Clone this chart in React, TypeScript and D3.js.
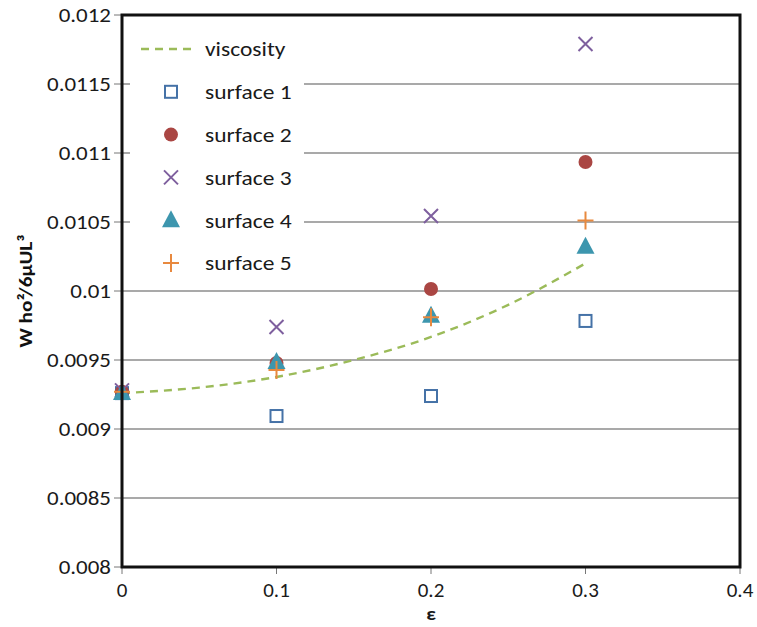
import * as React from 'react'
import * as d3 from 'd3'

// values
const eps = [0, 0.1, 0.2, 0.3]
const surface1 = [0.00926, 0.009094, 0.009239, 0.009783]
const surface2 = [0.00927, 0.009478, 0.010015, 0.010935]
const surface3 = [0.00928, 0.009739, 0.010543, 0.01179]
const surface4 = [0.00926, 0.009485, 0.00982, 0.01032]
const surface5 = [0.00927, 0.009428, 0.00981, 0.01051]
const viscEps = [0, 0.05, 0.1, 0.15, 0.2, 0.25, 0.3]
const viscosity = [0.00926, 0.0093, 0.009377, 0.0095, 0.009667, 0.0099, 0.0102]
const yTicks = [0.008, 0.0085, 0.009, 0.0095, 0.01, 0.0105, 0.011, 0.0115, 0.012]
const xTicks = [0, 0.1, 0.2, 0.3, 0.4]

const W = 757
const H = 627
const margin = { left: 122, right: 17, top: 15, bottom: 60 }
const font = 'Carlito, Calibri, "Open Sans", "Liberation Sans", sans-serif'

type Kind = 'square' | 'circle' | 'x' | 'triangle' | 'plus'

const series: { name: string; kind: Kind; color: string; values: number[] }[] = [
    { name: 'surface 1', kind: 'square', color: '#4572A7', values: surface1 },
    { name: 'surface 2', kind: 'circle', color: '#AA4643', values: surface2 },
    { name: 'surface 3', kind: 'x', color: '#7E5F9E', values: surface3 },
    { name: 'surface 4', kind: 'triangle', color: '#3D96AE', values: surface4 },
    { name: 'surface 5', kind: 'plus', color: '#E8893F', values: surface5 },
]

function Marker (props: { kind: Kind; color: string; x: number; y: number }) {
    const { kind, color, x, y } = props
    switch (kind) {
        case 'square':
            return <rect x={x - 6} y={y - 6} width={12} height={12} fill="white" stroke={color} strokeWidth={2} />
        case 'circle':
            return <circle cx={x} cy={y} r={7} fill={color} />
        case 'x':
            return <path d={`M${x - 7},${y - 7}L${x + 7},${y + 7}M${x - 7},${y + 7}L${x + 7},${y - 7}`} stroke={color} strokeWidth={2} />
        case 'triangle':
            return <path d={`M${x},${y - 10}L${x + 9},${y + 7}L${x - 9},${y + 7}Z`} fill={color} />
        case 'plus':
            return <path d={`M${x - 8},${y}L${x + 8},${y}M${x},${y - 9}L${x},${y + 9}`} stroke={color} strokeWidth={2} />
    }
}

// the reference text is a little wider than Carlito, so stretch it
function T (props: { x: number; y: number; size: number; sx?: number; anchor?: string; bold?: boolean; children: React.ReactNode }) {
    return <text transform={`translate(${props.x},${props.y}) scale(${props.sx || 1.12},1)`} dy="0.35em"
        textAnchor={props.anchor || 'start'} fontSize={props.size} fontWeight={props.bold ? 'bold' : 'normal'}
        fill="#1a1a1a">{props.children}</text>
}

export default function App () {
    const x = d3.scaleLinear().domain([0, 0.4]).range([margin.left, W - margin.right])
    const y = d3.scaleLinear().domain([0.008, 0.012]).range([H - margin.bottom, margin.top])
    const line = d3.line<number>()
        .x((_, i) => x(viscEps[i]))
        .y(d => y(d))
        .curve(d3.curveMonotoneX)

    const x0 = x(0), x1 = x(0.4), yb = y(0.008), yt = y(0.012)
    const legX = 171
    const legY0 = 49
    const legStep = 42.8

    return (
        <div style={{ width: W, height: H, overflow: 'hidden' }}>
            <style>{'html,body{margin:0;padding:0;overflow:hidden}'}</style>
            <svg width={W} height={H} style={{ display: 'block', fontFamily: font }}>
                <rect width={W} height={H} fill="white" />
                {yTicks.slice(1, -1).map(t => (
                    <line key={t} x1={x0} x2={x1} y1={y(t)} y2={y(t)} stroke="#8c8c8c" strokeWidth={1.3} />
                ))}
                {/* legend background */}
                <rect x={130} y={27} width={174} height={256} fill="white" />
                {yTicks.map(t => (
                    <g key={t}>
                        <line x1={x0 - 8} x2={x0} y1={y(t)} y2={y(t)} stroke="#777" />
                        <T x={x0 - 11} y={y(t)} size={20.5} anchor="end">{String(t)}</T>
                    </g>
                ))}
                {xTicks.map(t => (
                    <g key={t}>
                        <line x1={x(t)} x2={x(t)} y1={yb} y2={yb + 7} stroke="#777" />
                        <T x={x(t)} y={yb + 23} size={20} sx={1.05} anchor="middle">{String(t)}</T>
                    </g>
                ))}
                <path d={line(viscosity) || ''} fill="none" stroke="#9BBB59" strokeWidth={2.4} strokeDasharray="8,6" />
                {series.map(s => s.values.map((v, i) => (
                    <Marker key={s.name + i} kind={s.kind} color={s.color} x={x(eps[i])} y={y(v)} />
                )))}
                <rect x={x0} y={yt} width={x1 - x0} height={yb - yt} fill="none" stroke="#111" strokeWidth={3} />
                {/* legend */}
                <line x1={141} x2={197} y1={legY0} y2={legY0} stroke="#9BBB59" strokeWidth={2.4} strokeDasharray="8,6" />
                <T x={205} y={legY0} size={21}>viscosity</T>
                {series.map((s, i) => (
                    <g key={s.name}>
                        <Marker kind={s.kind} color={s.color} x={legX} y={legY0 + legStep * (i + 1)} />
                        <T x={205} y={legY0 + legStep * (i + 1)} size={21}>{s.name}</T>
                    </g>
                ))}
                <text transform={`translate(32,${(yt + yb) / 2}) rotate(-90) scale(1.12,1)`} textAnchor="middle"
                    fontSize={19} fontWeight="bold" fill="#111">W ho²/6μUL³</text>
                <T x={x(0.2)} y={613} size={19} anchor="middle" bold>ε</T>
            </svg>
        </div>
    )
}
